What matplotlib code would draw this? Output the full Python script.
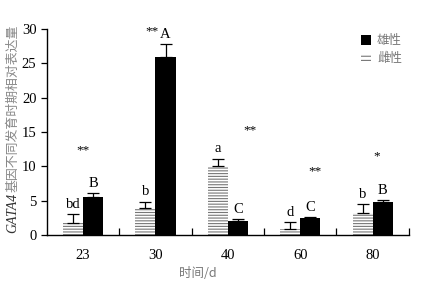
import numpy as np
import matplotlib.pyplot as plt

plt.rcParams['font.family'] = ['Liberation Serif', 'Noto Sans CJK SC']

days = ["23", "30", "40", "60", "80"]
female = [1.8, 4.0, 10.1, 0.9, 3.2]
female_err = [1.2, 0.85, 1.0, 1.0, 1.3]
male = [5.5, 25.9, 2.0, 2.5, 4.8]
male_err = [0.6, 1.9, 0.3, 0.1, 0.25]
female_letters = ["bd", "b", "a", "d", "b"]
male_letters = ["B", "A", "C", "C", "B"]
stars = ["**", "**", "**", "**", "*"]
star_y = [12.4, 29.7, 15.3, 9.2, 11.4]

fig = plt.figure(figsize=(4.42, 2.93), dpi=100)
ax = fig.add_axes([0.106, 0.198, 0.819, 0.703])

x = np.arange(len(days))
w = 0.278
off = 0.139

plt.rcParams['hatch.linewidth'] = 0.8
ax.bar(x - off, female, w, color="white", edgecolor="#777777", hatch="------",
       linewidth=0, yerr=[np.zeros(5), female_err],
       error_kw=dict(ecolor="black", elinewidth=0.9, capsize=4, capthick=0.9))
ax.bar(x + off, male, w, color="black", linewidth=0,
       yerr=[np.zeros(5), male_err],
       error_kw=dict(ecolor="black", elinewidth=0.9, capsize=4, capthick=0.9))

for i in range(len(days)):
    ax.text(x[i] - off, female[i] + female_err[i] + 0.5, female_letters[i],
            ha="center", va="bottom", fontsize=10.5)
    ax.text(x[i] + off, male[i] + male_err[i] + 0.5, male_letters[i],
            ha="center", va="bottom", fontsize=10.5)

star_x = [0, -0.05, 0.3, 0.2, 0.05]
for i in range(len(days)):
    ax.text(x[i] + star_x[i], star_y[i], stars[i], ha="center", va="center",
            fontsize=9.5)

ax.set_xlim(-0.5, 4.5)
ax.set_ylim(0, 30)
ax.set_yticks([0, 5, 10, 15, 20, 25, 30])
ax.set_xticks(x)
ax.set_xticklabels(days)
ax.set_xticks(np.arange(0.5, 5, 1), minor=True)
ax.tick_params(axis="x", which="major", length=0, pad=10, labelsize=10.5)
ax.tick_params(axis="x", which="minor", direction="in", length=5, width=0.9)
ax.tick_params(axis="y", direction="out", length=4, width=0.9, labelsize=10.5)
for s in ["top", "right"]:
    ax.spines[s].set_visible(False)
for s in ["left", "bottom"]:
    ax.spines[s].set_linewidth(1.0)

# legend drawn by hand
fig.patches.append(plt.Rectangle((0.817, 0.845), 0.022, 0.034, transform=fig.transFigure,
                                 facecolor="black", edgecolor="none"))
fig.text(0.853, 0.862, "雄性", family="Noto Sans CJK SC", color="#777777",
         fontsize=9, va="center")
fig.patches.append(plt.Rectangle((0.817, 0.785), 0.022, 0.034, transform=fig.transFigure,
                                 facecolor="white", edgecolor="#777777", hatch="----",
                                 linewidth=0))
fig.text(0.853, 0.800, "雌性", family="Noto Sans CJK SC", color="#777777",
         fontsize=9, va="center")

fig.text(0.028, 0.272, "GATA4", rotation=90, style="italic", fontsize=10,
         ha="center", va="center", color="#333333")
fig.text(0.028, 0.63, "基因不同发育时期相对表达量", rotation=90,
         family="Noto Sans CJK SC", fontsize=9.3, ha="center", va="center",
         color="#888888")

fig.text(0.448, 0.065, "时间/d", family=["Noto Sans CJK SC", "Liberation Serif"],
         fontsize=9, ha="center", va="center", color="#777777")

fig.savefig("out.png", dpi=100)
